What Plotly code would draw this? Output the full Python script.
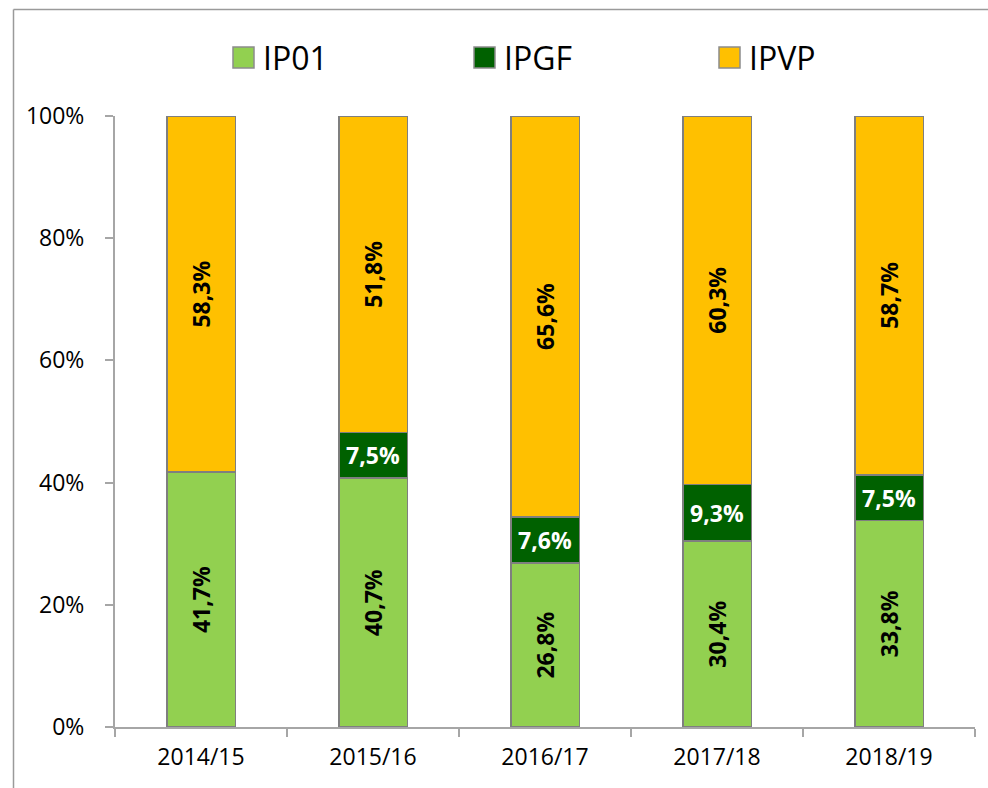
import plotly.graph_objects as go

categories = ["2014/15", "2015/16", "2016/17", "2017/18", "2018/19"]
series_names = ["IP01", "IPGF", "IPVP"]
ip01 = [41.7, 40.7, 26.8, 30.4, 33.8]
ipgf = [None, 7.5, 7.6, 9.3, 7.5]
ipvp = [58.3, 51.8, 65.6, 60.3, 58.7]
y_ticks = [0, 20, 40, 60, 80, 100]
y_tick_labels = ["0%", "20%", "40%", "60%", "80%", "100%"]

colors = ["#92D050", "#006100", "#FFC000"]
text_colors = ["black", "white", "black"]
angles = [-90, 0, -90]

FONT = "Open Sans"
W, H = 988, 788
ML, MT = 115, 116
PW, PH = 860, 611
MR, MB = W - ML - PW, H - MT - PH


def px_x(x):
    return (x - ML) / PW


def px_y(y):
    return (MT + PH - y) / PH


def fmt(v):
    return "" if v is None else f"{v:.1f}%".replace(".", ",")


fig = go.Figure()
for name, vals, col, tc, ang in zip(series_names, [ip01, ipgf, ipvp], colors, text_colors, angles):
    fig.add_trace(go.Bar(
        x=categories, y=vals, name=name,
        marker=dict(color=col, line=dict(color="#7F7F7F", width=1.8)),
        text=[fmt(v) for v in vals], textposition="inside",
        insidetextanchor="middle", textangle=ang,
        textfont=dict(family=FONT, size=23, color=tc, weight="bold"),
        hoverinfo="skip", showlegend=False,
    ))

border = dict(color="#9A9A9A", width=1.5)
shapes = [
    dict(type="line", xref="paper", yref="paper",
         x0=px_x(13.5), x1=px_x(13.5), y0=px_y(9.5), y1=px_y(800), line=border),
    dict(type="line", xref="paper", yref="paper",
         x0=px_x(13.5), x1=px_x(1000), y0=px_y(9.5), y1=px_y(9.5), line=border),
]
annotations = []
legend_sq_x = [233, 474, 719]
for name, col, sx in zip(series_names, colors, legend_sq_x):
    shapes.append(dict(type="rect", xref="paper", yref="paper",
                       x0=px_x(sx), x1=px_x(sx + 21), y0=px_y(68), y1=px_y(47),
                       fillcolor=col, line=dict(color="#8C8C8C", width=1.5)))
    annotations.append(dict(xref="paper", yref="paper", x=px_x(sx + 28), y=px_y(57.5),
                            text=name, showarrow=False, xanchor="left", yanchor="middle",
                            font=dict(family=FONT, size=32, color="black")))

fig.update_layout(
    barmode="stack", bargap=0.6,
    width=W, height=H,
    margin=dict(l=ML, r=MR, t=MT, b=MB, pad=0),
    paper_bgcolor="white", plot_bgcolor="white",
    font=dict(family=FONT, color="black"),
    shapes=shapes, annotations=annotations,
    xaxis=dict(showline=True, linecolor="#A6A6A6", linewidth=2,
               ticks="outside", tickson="boundaries", ticklen=8, tickwidth=2,
               tickcolor="#A6A6A6", tickfont=dict(family=FONT, size=23, color="black"),
               ticklabelstandoff=8, showgrid=False, zeroline=False, fixedrange=True),
    yaxis=dict(range=[0, 100], tickvals=y_ticks, ticktext=y_tick_labels,
               showline=True, linecolor="#A6A6A6", linewidth=2,
               ticks="outside", ticklen=8, tickwidth=2, tickcolor="#A6A6A6",
               tickfont=dict(family=FONT, size=23, color="black"),
               ticklabelstandoff=16, showgrid=False, zeroline=False, fixedrange=True),
)

fig.write_html(
    "out.html",
    config={"displayModeBar": False},
    post_script="document.body.style.margin='0';document.body.style.overflow='hidden';",
)
